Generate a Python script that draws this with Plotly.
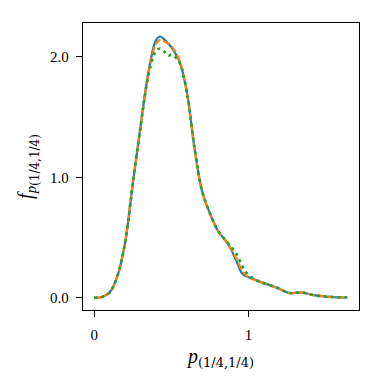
import plotly.graph_objects as go

# KDE curves of p_(1/4,1/4)
p_grid = [0.0, 0.05, 0.1, 0.15, 0.2, 0.25, 0.3, 0.34, 0.37, 0.4, 0.425, 0.45, 0.48,
          0.5, 0.55, 0.6, 0.65, 0.7, 0.75, 0.8, 0.87, 0.92, 0.96, 1.0, 1.07, 1.18,
          1.27, 1.34, 1.42, 1.5, 1.57, 1.64]

f_blue = [0.0, 0.006, 0.045, 0.18, 0.46, 0.95, 1.42, 1.79, 2.0, 2.14, 2.17, 2.15, 2.11,
          2.08, 1.97, 1.71, 1.24, 0.88, 0.70, 0.56, 0.44, 0.31, 0.20, 0.17, 0.135, 0.085,
          0.038, 0.045, 0.022, 0.01, 0.004, 0.002]

f_orange = [0.0, 0.006, 0.045, 0.18, 0.46, 0.95, 1.42, 1.78, 1.98, 2.11, 2.14, 2.13, 2.11,
            2.09, 1.98, 1.71, 1.24, 0.88, 0.70, 0.56, 0.44, 0.33, 0.22, 0.17, 0.135, 0.085,
            0.038, 0.045, 0.022, 0.01, 0.004, 0.002]

f_green = [0.0, 0.006, 0.045, 0.18, 0.46, 0.95, 1.42, 1.77, 1.95, 2.05, 2.07, 2.05, 2.01,
           2.02, 1.96, 1.71, 1.24, 0.88, 0.70, 0.56, 0.45, 0.37, 0.26, 0.19, 0.135, 0.085,
           0.038, 0.045, 0.022, 0.01, 0.004, 0.002]

x_ticks = [0, 1]
x_ticklabels = ["0", "1"]
y_ticks = [0.0, 1.0, 2.0]
y_ticklabels = ["0.0", "1.0", "2.0"]

serif = "Liberation Serif"
sub_style = "font-family:DejaVu Serif;font-style:normal"

x_title = ("<i>p</i><sub><span style='" + sub_style + ";font-size:13px'>(1/4,1/4)</span></sub>")
y_title = ("<i>f</i><sub><span style='font-size:15px'><i>p</i></span>"
           "<sub><span style='" + sub_style + ";font-size:12px'>(1/4,1/4)</span></sub></sub>")

fig = go.Figure([
    go.Scatter(x=p_grid, y=f_blue, mode="lines", line=dict(color="#1f77b4", width=2.2), line_shape="spline"),
    go.Scatter(x=p_grid, y=f_orange, mode="lines", line=dict(color="#ff7f0e", width=2.2, dash="7px,3px"), line_shape="spline"),
    go.Scatter(x=p_grid, y=f_green, mode="lines", line=dict(color="#2ca02c", width=2.7, dash="3px,4px"), line_shape="spline"),
])

axis_common = dict(showgrid=False, zeroline=False, showline=True, linecolor="black", linewidth=1.3,
                   mirror=True, ticks="outside", ticklen=6, tickwidth=1.3, tickcolor="black",
                   tickfont=dict(family=serif, size=15, color="black"))

fig.update_xaxes(range=[-0.073, 1.716], tickvals=x_ticks, ticktext=x_ticklabels, ticklabelstandoff=5,
                 title=dict(text=x_title, font=dict(family=serif, size=20, color="black"), standoff=6),
                 **axis_common)
fig.update_yaxes(range=[-0.102, 2.282], tickvals=y_ticks, ticktext=y_ticklabels, ticklabelstandoff=4,
                 title=dict(text=y_title, font=dict(family=serif, size=20, color="black"), standoff=12),
                 **axis_common)

# page body adds ~8px offset, so the figure is 374px with margins shifted accordingly
fig.update_layout(width=374, height=374, showlegend=False,
                  margin=dict(l=75, r=23, t=15, b=72),
                  plot_bgcolor="white", paper_bgcolor="white")

fig.write_html("out.html")
